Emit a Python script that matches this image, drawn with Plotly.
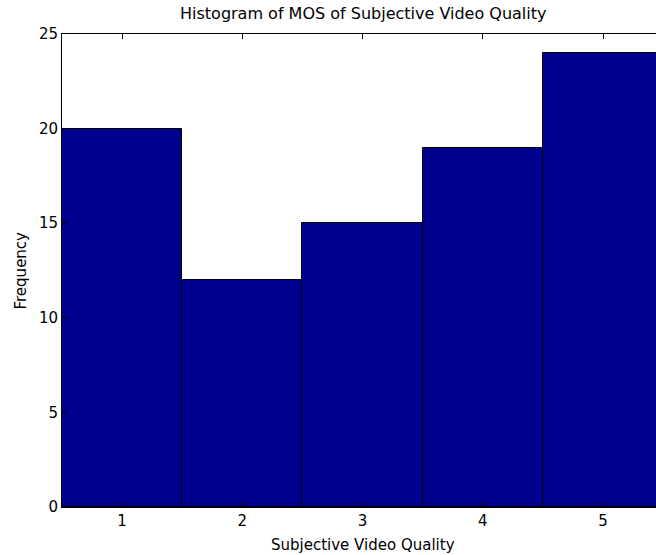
import plotly.graph_objects as go

categories = [1, 2, 3, 4, 5]
frequency = [20, 12, 15, 19, 24]
y_ticks = [0, 5, 10, 15, 20, 25]

title_text = "Histogram of MOS of Subjective Video Quality"
x_label = "Subjective Video Quality"
y_label = "Frequency"

FONT = "DejaVu Sans"
FS = 15
FS_T = 16

fig = go.Figure()
fig.add_trace(go.Bar(
    x=categories, y=frequency, width=1,
    marker=dict(color="#00008F", line=dict(color="black", width=1)),
))

fig.update_layout(
    width=656, height=555,
    margin=dict(l=62, r=0, t=34, b=48),
    paper_bgcolor="white", plot_bgcolor="white",
    font=dict(family=FONT, size=FS, color="black"),
    showlegend=False, bargap=0,
    xaxis=dict(range=[0.5, 5.44], tickvals=categories, ticktext=[str(c) for c in categories],
               ticks="inside", ticklen=5, tickcolor="black", showline=True, linecolor="black",
               linewidth=1, mirror="ticks", showgrid=False, zeroline=False,
               tickfont=dict(family=FONT, size=FS)),
    yaxis=dict(range=[0, 25], tickvals=y_ticks, ticks="inside", ticklen=5, tickcolor="black",
               showline=True, linecolor="black", linewidth=1, showgrid=False, zeroline=False,
               tickfont=dict(family=FONT, size=FS)),
    annotations=[
        dict(text=title_text, xref="x", yref="paper", x=3, y=1, yshift=9, xanchor="center",
             yanchor="bottom", showarrow=False, font=dict(family=FONT, size=FS_T)),
        dict(text=x_label, xref="x", yref="paper", x=3, y=0, yshift=-27, xanchor="center",
             yanchor="top", showarrow=False, font=dict(family=FONT, size=FS)),
        dict(text=y_label, xref="paper", yref="paper", x=0, xshift=-42, y=0.5, textangle=-90,
             xanchor="center", yanchor="middle", showarrow=False, font=dict(family=FONT, size=FS)),
    ],
)

fig.write_html("out.html")
